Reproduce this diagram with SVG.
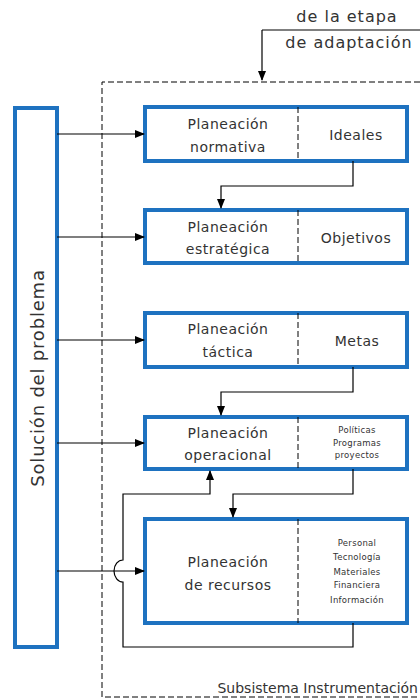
<svg xmlns="http://www.w3.org/2000/svg" width="420" height="700" viewBox="0 0 420 700">
<defs>
<marker id="ah" markerWidth="10" markerHeight="8" refX="9" refY="4" orient="auto" markerUnits="userSpaceOnUse">
<path d="M0,0 L10,4 L0,8 z" fill="#000"/>
</marker>
<style>
.box{fill:#fff;stroke:#1E72C0;stroke-width:4}
.div{stroke:#000;stroke-width:1;stroke-dasharray:6,3;fill:none}
.ln{stroke:#000;stroke-width:1.2;fill:none}
.t{font-family:"DejaVu Sans",sans-serif;font-size:14px;letter-spacing:0.5px;fill:#333;text-anchor:middle;dominant-baseline:central}
.s{font-family:"DejaVu Sans",sans-serif;font-size:8.5px;letter-spacing:0.3px;fill:#333;text-anchor:middle;dominant-baseline:central}
</style>
</defs>
<rect width="420" height="700" fill="#fff"/>
<path d="M420,82 H102 V697 H420" class="div"/>
<text class="t" x="347" y="16" style="font-size:16px;letter-spacing:1px">de la etapa</text>
<text class="t" x="349" y="42" style="font-size:16px;letter-spacing:1px">de adaptación</text>
<text class="t" x="418" y="688" style="text-anchor:end;letter-spacing:0px">Subsistema Instrumentación</text>

<g id="solucion">
<rect class="box" x="15" y="108" width="42" height="539"/>
<text class="t" transform="translate(37,378) rotate(-90)" style="font-size:18px;letter-spacing:0.8px">Solución del problema</text>
</g>

<g id="normativa">
<rect class="box" x="145" y="107" width="262" height="54"/>
<line class="div" x1="298" y1="107" x2="298" y2="161"/>
<text class="t" x="228" y="124">Planeación</text>
<text class="t" x="228" y="147">normativa</text>
<text class="t" x="356" y="135">Ideales</text>
</g>
<g id="estrategica">
<rect class="box" x="145" y="210" width="262" height="53"/>
<line class="div" x1="298" y1="210" x2="298" y2="263"/>
<text class="t" x="228" y="227">Planeación</text>
<text class="t" x="228" y="249">estratégica</text>
<text class="t" x="356" y="238">Objetivos</text>
</g>
<g id="tactica">
<rect class="box" x="145" y="313" width="262" height="54"/>
<line class="div" x1="298" y1="313" x2="298" y2="367"/>
<text class="t" x="228" y="329">Planeación</text>
<text class="t" x="228" y="352">táctica</text>
<text class="t" x="357" y="341">Metas</text>
</g>
<g id="operacional">
<rect class="box" x="145" y="417" width="262" height="52"/>
<line class="div" x1="298" y1="417" x2="298" y2="469"/>
<text class="t" x="228" y="433">Planeación</text>
<text class="t" x="228" y="455">operacional</text>
<text class="s" x="357" y="430">Políticas</text>
<text class="s" x="357" y="443">Programas</text>
<text class="s" x="357" y="455">proyectos</text>
</g>
<g id="recursos">
<rect class="box" x="145" y="519" width="262" height="104"/>
<line class="div" x1="298" y1="519" x2="298" y2="623"/>
<text class="t" x="228" y="562">Planeación</text>
<text class="t" x="228" y="585">de recursos</text>
<text class="s" x="357" y="543">Personal</text>
<text class="s" x="357" y="557">Tecnología</text>
<text class="s" x="357" y="572">Materiales</text>
<text class="s" x="357" y="585">Financiera</text>
<text class="s" x="357" y="600">Información</text>
</g>

<g id="connectors">
<path class="ln" d="M262,30 H420" />
<path class="ln" d="M262,30 V80" marker-end="url(#ah)"/>
<path class="ln" d="M57,134 H144" marker-end="url(#ah)"/>
<path class="ln" d="M57,237 H144" marker-end="url(#ah)"/>
<path class="ln" d="M57,340 H144" marker-end="url(#ah)"/>
<path class="ln" d="M57,443 H144" marker-end="url(#ah)"/>
<path class="ln" d="M57,571 H144" marker-end="url(#ah)"/>
<path class="ln" d="M353,161 V186 H221 V208" marker-end="url(#ah)"/>
<path class="ln" d="M353,367 V392 H221 V415" marker-end="url(#ah)"/>
<path class="ln" d="M353,469 V494 H233 V517" marker-end="url(#ah)"/>
<path class="ln" d="M353,623 V647 H123 V582 A9,11 0 0 1 123,560 V494 H210 V471" marker-end="url(#ah)"/>
</g>
</svg>
